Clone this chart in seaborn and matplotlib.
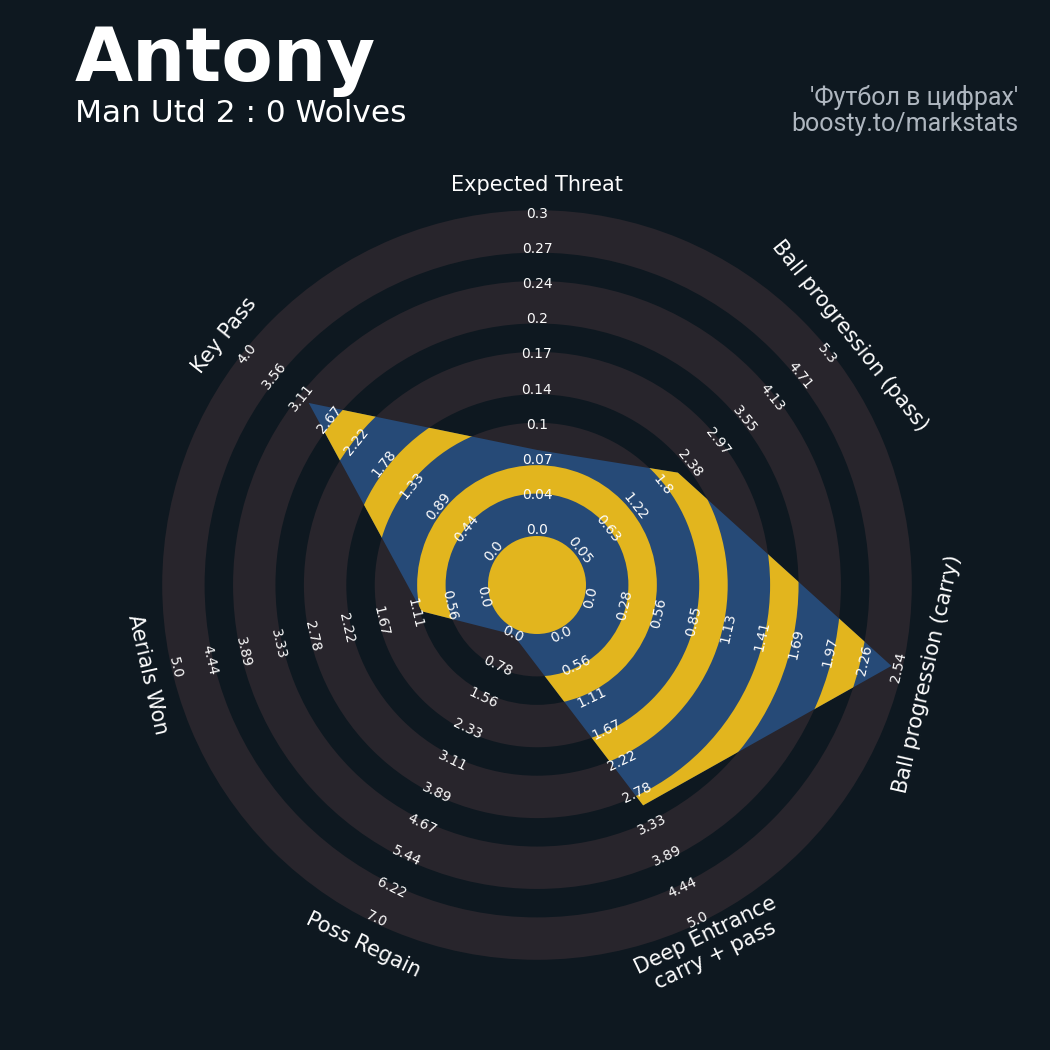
import numpy as np
import pandas as pd
import matplotlib.pyplot as plt
import seaborn as sns
from matplotlib.patches import Wedge, Circle, Polygon

sns.set_theme(style='dark')
plt.rcParams['font.family'] = ['DejaVu Sans']

# radar data
params = ['Expected Threat', 'Ball progression (pass)', 'Ball progression (carry)',
          'Deep Entrance\ncarry + pass', 'Poss Regain', 'Aerials Won', 'Key Pass']
values = [0.076, 2.13, 2.48, 3.0, 0.0, 1.0, 3.0]
min_range = [0.0, 0.05, 0.0, 0.0, 0.0, 0.0, 0.0]
max_range = [0.3, 5.3, 2.54, 5.0, 7.0, 5.0, 4.0]

# range labels per parameter (inner -> outer)
xt_labels = ['0.0', '0.04', '0.07', '0.1', '0.14', '0.17', '0.2', '0.24', '0.27', '0.3']
pass_labels = ['0.05', '0.63', '1.22', '1.8', '2.38', '2.97', '3.55', '4.13', '4.71', '5.3']
carry_labels = ['0.0', '0.28', '0.56', '0.85', '1.13', '1.41', '1.69', '1.97', '2.26', '2.54']
deep_labels = ['0.0', '0.56', '1.11', '1.67', '2.22', '2.78', '3.33', '3.89', '4.44', '5.0']
regain_labels = ['0.0', '0.78', '1.56', '2.33', '3.11', '3.89', '4.67', '5.44', '6.22', '7.0']
aerial_labels = ['0.0', '0.56', '1.11', '1.67', '2.22', '2.78', '3.33', '3.89', '4.44', '5.0']
key_labels = ['0.0', '0.44', '0.89', '1.33', '1.78', '2.22', '2.67', '3.11', '3.56', '4.0']
range_labels = [xt_labels, pass_labels, carry_labels, deep_labels,
                regain_labels, aerial_labels, key_labels]

# colours
BG = '#0e1820'
RING = '#28252c'
BLUE = '#264a77'
YELLOW = '#e2b51e'

# geometry (1 unit = 1 pixel)
R_MIN, R_MAX = 55, 371
CENTER_R = 49
PERIOD = 70.85
DARK_W = 42.4
N_RINGS = 5
LABEL_R = 400

df = pd.DataFrame({'param': params, 'value': values, 'lo': min_range, 'hi': max_range})
n = len(df)
df['theta'] = np.pi / 2 - np.arange(n) * 2 * np.pi / n
df['r'] = R_MIN + (df['value'] - df['lo']) / (df['hi'] - df['lo']) * (R_MAX - R_MIN)
df['x'] = df['r'] * np.cos(df['theta'])
df['y'] = df['r'] * np.sin(df['theta'])

rot = -np.arange(n) * 360 / n
rot = (rot + 90) % 180 - 90
rot[rot == -90] = 90

fig = plt.figure(figsize=(10.5, 10.5), dpi=100, facecolor=BG)
ax = fig.add_axes([0, 0, 1, 1])
ax.set_facecolor(BG)
ax.set_xlim(-537, 513)
ax.set_ylim(-465, 585)
ax.axis('off')

# background rings
for k in range(N_RINGS):
    r0 = CENTER_R + k * PERIOD
    ax.add_patch(Wedge((0, 0), r0 + DARK_W, 0, 360, width=DARK_W, facecolor=RING,
                       edgecolor='none', zorder=1))

# radar polygon
poly = Polygon(df[['x', 'y']].values, closed=True, facecolor=BLUE, edgecolor='none', zorder=2)
ax.add_patch(poly)

# yellow rings clipped to the polygon
centre = Circle((0, 0), CENTER_R, facecolor=YELLOW, edgecolor='none', zorder=3)
ax.add_patch(centre)
centre.set_clip_path(poly)
for k in range(N_RINGS - 1):
    r0 = CENTER_R + k * PERIOD + DARK_W
    w = Wedge((0, 0), r0 + PERIOD - DARK_W, 0, 360, width=PERIOD - DARK_W,
              facecolor=YELLOW, edgecolor='none', zorder=3)
    ax.add_patch(w)
    w.set_clip_path(poly)

# range labels
steps = np.linspace(R_MIN, R_MAX, 10)
for i in range(n):
    th = df['theta'][i]
    for j, lab in enumerate(range_labels[i]):
        ax.text(steps[j] * np.cos(th), steps[j] * np.sin(th), lab, rotation=rot[i],
                rotation_mode='anchor', ha='center', va='center', fontsize=10,
                color='#fcfcfc', zorder=5)

# parameter labels
for i in range(n):
    th = df['theta'][i]
    ax.text(LABEL_R * np.cos(th), LABEL_R * np.sin(th), params[i], rotation=rot[i],
            rotation_mode='anchor', ha='center', va='center', fontsize=15,
            color='#fcfcfc', zorder=5, linespacing=1.1)

# titles
fig.text(75 / 1050, 1 - 81 / 1050, 'Antony', fontsize=54, fontweight='bold',
         color='white', va='baseline', ha='left')
fig.text(75 / 1050, 1 - 122 / 1050, 'Man Utd 2 : 0 Wolves', fontsize=22.5,
         color='white', va='baseline', ha='left')
fig.text(1018 / 1050, 1 - 105 / 1050, "'Футбол в цифрах'", fontsize=18,
         family=['Roboto', 'DejaVu Sans'], color='#aeb6bf', va='baseline', ha='right')
fig.text(1018 / 1050, 1 - 131 / 1050, 'boosty.to/markstats', fontsize=18,
         family=['Roboto', 'DejaVu Sans'], color='#aeb6bf', va='baseline', ha='right')

fig.savefig('out.png', dpi=100, facecolor=BG)
